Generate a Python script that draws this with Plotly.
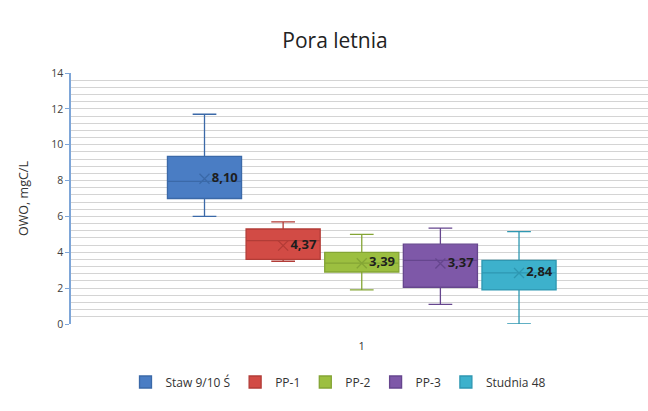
import plotly.graph_objects as go

# Summer season total organic carbon (OWO) by sampling point
series = ["Staw 9/10 Ś", "PP-1", "PP-2", "PP-3", "Studnia 48"]
lower_whisker = [6.0, 3.5, 1.9, 1.1, 0.0]
q1 = [7.0, 3.6, 2.9, 2.05, 1.9]
median = [7.95, 4.65, 3.4, 3.55, 2.85]
q3 = [9.35, 5.3, 4.0, 4.45, 3.55]
upper_whisker = [11.7, 5.7, 5.0, 5.35, 5.15]
mean = [8.10, 4.37, 3.39, 3.37, 2.84]
category = "1"

fills = ["#4a7dc4", "#d24b45", "#9cbf40", "#7e58a8", "#3db1cc"]
edges = ["#3b69a8", "#b23c37", "#84a535", "#66468e", "#2e97b1"]

group_step = 0.139
box_width = 0.131

fig = go.Figure()
n = len(series)
for i, name in enumerate(series):
    xpos = 1 + (i - (n - 1) / 2) * group_step
    fig.add_trace(go.Box(
        name=name,
        x=[xpos],
        q1=[q1[i]], median=[median[i]], q3=[q3[i]],
        lowerfence=[lower_whisker[i]], upperfence=[upper_whisker[i]],
        width=box_width,
        whiskerwidth=0.32,
        fillcolor=fills[i],
        line=dict(color=edges[i], width=1.3),
        boxpoints=False,
        hoverinfo="skip",
    ))
    fig.add_trace(go.Scatter(
        x=[xpos], y=[mean[i]],
        mode="markers+text",
        marker=dict(symbol="x-thin-open", size=10, color=edges[i],
                    line=dict(color=edges[i], width=1.3)),
        text=[f"{mean[i]:.2f}".replace(".", ",")],
        textposition="middle right",
        textfont=dict(family="Open Sans, sans-serif", size=13, color="#1e1e1e",
                      weight="bold"),
        showlegend=False,
        hoverinfo="skip",
    ))

fig.update_layout(
    width=648, height=411,
    margin=dict(l=71, r=0, t=73, b=87, autoexpand=False),
    paper_bgcolor="white",
    plot_bgcolor="white",
    title=dict(text="Pora letnia", x=335 / 648, xref="container", xanchor="center",
               y=1 - 41 / 411, yref="container", yanchor="middle",
               font=dict(family="Open Sans, sans-serif", size=21, color="#222222")),
    showlegend=True,
    legend=dict(orientation="h", x=338 / 648, xref="container", xanchor="center",
                y=1 - 382 / 411, yref="container", yanchor="middle",
                font=dict(family="Open Sans, sans-serif", size=12, color="#333333"),
                itemwidth=30, tracegroupgap=0),
    font=dict(family="Open Sans, sans-serif"),
)

fig.update_xaxes(
    range=[0.486, 1.506],
    tickmode="array", tickvals=[1], ticktext=[category],
    ticks="outside", ticklen=12, tickcolor="rgba(0,0,0,0)",
    tickfont=dict(size=11, color="#333333"),
    showgrid=False, zeroline=False, showline=False,
)

fig.update_yaxes(
    range=[0, 14], dtick=2,
    showgrid=True, gridcolor="#d4d4d4", gridwidth=1,
    minor=dict(dtick=0.4, showgrid=True, gridcolor="#d4d4d4", gridwidth=1),
    showline=True, linecolor="#7ea6d8", linewidth=1.5,
    ticks="outside", ticklen=4, tickcolor="#7ea6d8",
    tickfont=dict(size=10.5, color="#404040"),
    zeroline=False,
    title=dict(text="OWO, mgC/L", font=dict(size=12.5, color="#333333"), standoff=20),
)

fig.write_html("out.html")
